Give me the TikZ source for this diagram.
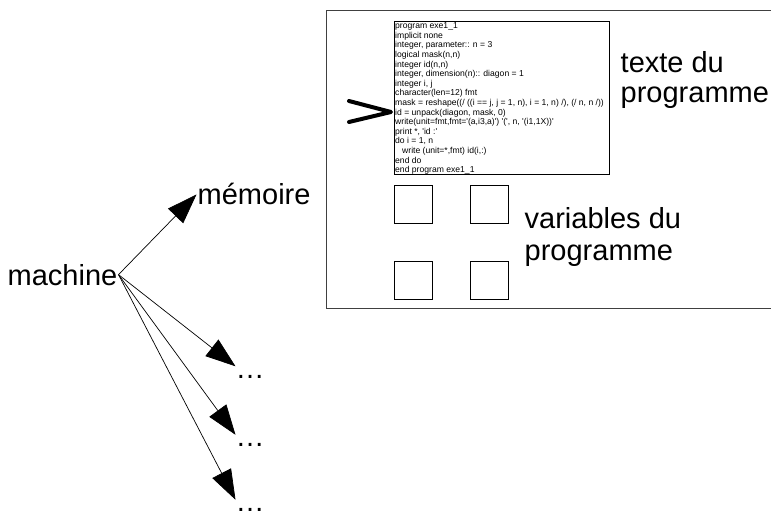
\documentclass[tikz,border=0pt]{standalone}
\usepackage{fontspec}
\setmainfont{Liberation Sans}
\usetikzlibrary{arrows.meta}
\newcommand{\apos}{\textquotesingle}

\begin{document}
\begin{tikzpicture}[x=1pt,y=-1pt,
    grand/.style={font=\fontsize{29}{30}\selectfont, inner sep=1pt},
    suite/.style={font=\fontsize{29}{30}\selectfont, inner sep=0pt, text height=11.5pt, anchor=base west},
    fleche/.style={-{Triangle[length=30pt,width=21pt]}, line width=0.7pt},
    case/.style={draw, line width=0.9pt, minimum size=38pt, inner sep=0pt, anchor=north west}]
                            % Cadre de l'image
                            \useasboundingbox (0,0) rectangle (771,513);

                            % Memoire (bord droit hors image)
                            \draw[black!75, line width=1pt] (790,11) -- (326,11) -- (326,308) -- (790,308);

                            % Texte du programme
                            \node[draw, line width=0.9pt, minimum width=215pt, minimum height=153pt, inner sep=0pt, anchor=north west] (code) at (394,21) {};
                            \node[anchor=north west, inner xsep=1pt, inner ysep=1.5pt, align=left, font=\fontsize{8.6}{9.6}\selectfont] (source) at (code.north west) {program exe1\_1\\
implicit none\\
integer, parameter:: n = 3\\
logical mask(n,n)\\
integer id(n,n)\\
integer, dimension(n):: diagon = 1\\
integer i, j\\
character(len=12) fmt\\
mask = reshape((/ ((i == j, j = 1, n), i = 1, n) /), (/ n, n /))\\
id = unpack(diagon, mask, 0)\\
write(unit=fmt,fmt=\apos(a,i3,a)\apos) \apos(\apos, n, \apos(i1,1X))\apos\\
print *, \apos id :\apos\\
do i = 1, n\\
\hspace*{7pt}write (unit=*,fmt) id(i,:)\\
end do\\
end program exe1\_1};

                            % Instruction courante
                            \draw[line width=4pt, line cap=round, line join=round] (349,101) -- (391,112) -- (349,122);

                            % Variables
                            \node[case] (v1) at (394,185) {};
                            \node[case] (v2) at (470,185) {};
                            \node[case] (v3) at (394,261) {};
                            \node[case] (v4) at (470,261) {};

                            % Legendes
                            \node[grand, inner sep=0pt, anchor=north west, align=left] (legtexte) at (620.5,51) {texte du\\programme};
                            \node[grand, inner sep=0pt, anchor=north west, align=left, font=\fontsize{29}{32}\selectfont] (legvar) at (524.5,207) {variables du\\programme};

                            % Machine et ses parties
                            \node[grand, anchor=base west] (machine) at (6.5,285) {machine};
                            \node[grand, anchor=base west] (memoire) at (196.5,205) {mémoire};
                            \node[suite] (s1) at (235.5,378) {…};
                            \node[suite] (s2) at (235.5,446.5) {…};
                            \node[suite] (s3) at (235.5,511.5) {…};

                            % Fleches
                            \draw[fleche] (machine.east) -- (memoire.west);
                            \draw[fleche] (machine.east) -- (s1.north west);
                            \draw[fleche] (machine.east) -- (s2.north west);
                            \draw[fleche] (machine.east) -- (s3.north west);

                        \end{tikzpicture}
\end{document}
